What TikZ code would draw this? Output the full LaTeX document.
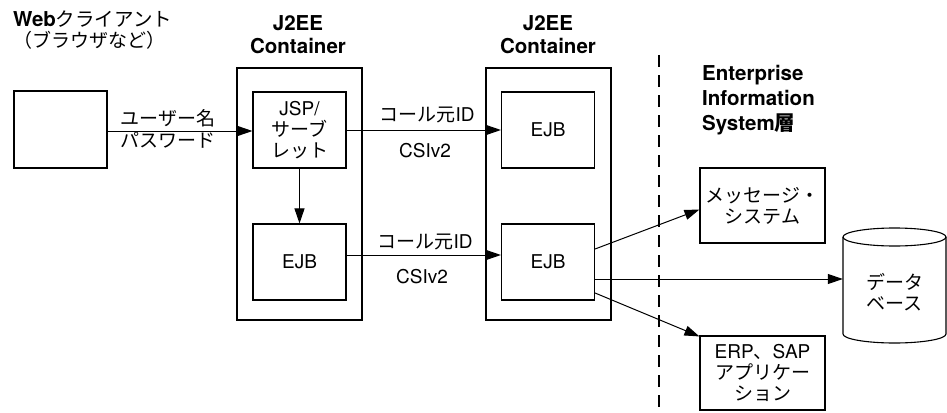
\documentclass[tikz,border=0pt]{standalone}
\usepackage{fontspec}
\setmainfont{TeX Gyre Heros}
\newfontfamily\jafont{Noto Sans CJK JP}
\usetikzlibrary{arrows.meta,calc}

\newcommand\bodyfont{\fontsize{19}{21}\selectfont}
\newcommand\headfont{\fontsize{20.5}{23.5}\selectfont\bfseries}

\begin{document}
\begin{tikzpicture}[x=1pt,y=-1pt,
  box/.style={draw, line width=1.1pt, inner sep=0pt, align=center,
              minimum width=93pt, minimum height=76pt, font=\bodyfont},
  outer/.style={draw, line width=1.1pt, minimum width=125pt, minimum height=252pt},
  eis/.style={box, minimum width=125pt, minimum height=75pt},
  txt/.style={inner sep=0pt, font=\bodyfont, align=center},
  head/.style={inner sep=0pt, font=\headfont, align=center},
  arr/.style={line width=1pt, -{Triangle[length=15pt,width=10pt]}}]

\useasboundingbox (0,0) rectangle (947,412);

% headings
\node[head, anchor=west, text height=14pt, text depth=2pt] (webt) at (13,21)
  {Web{\jafont\mdseries\fontsize{19.5}{21}\selectfont クライアント}};
\node[txt, anchor=west, text height=14pt, text depth=2pt] (webs) at (13,42) {\jafont （ブラウザなど）};
\node[head] (h1) at (298,34.5) {J2EE\\Container};
\node[head] (h2) at (548,34.5) {J2EE\\Container};
\node[head, anchor=west, align=left, font=\fontsize{20.5}{25}\selectfont\bfseries] (h3) at (702,100)
  {Enterprise\\Information\\System{\jafont\bfseries 層}};

% web client
\node[box, minimum width=93pt, minimum height=77pt] (web) at (60.5,129.5) {};

% first container
\node[outer] (c1) at (299.5,194) {};
\node[box] (jsp) at (299.5,130) {JSP/\\{\jafont サーブ}\\{\jafont レット}};
\node[box] (ejb1) at (299.5,262) {EJB};

% second container
\node[outer] (c2) at (548.5,194) {};
\node[box] (ejbA) at (548,130) {EJB};
\node[box] (ejb2) at (548,262) {EJB};

% EIS tier boundary
\draw[line width=2.4pt, dash pattern=on 12pt off 8pt] (659,55) -- (659,412);

% EIS resources
\node[eis] (msg) at (762.5,205.5) {\jafont メッセージ・\\\jafont システム};
\node[eis, minimum height=74pt] (erp) at (762.5,373) {ERP{\jafont 、}SAP\\{\jafont アプリケー}\\{\jafont ション}};

% database cylinder
\draw[line width=1.1pt, fill=white] (843,237) -- (843,334)
  arc[start angle=180, end angle=0, x radius=51.5, y radius=9] -- (946,237);
\draw[line width=1.1pt] (894.5,237) ellipse [x radius=51.5, y radius=9];
\node[inner sep=0pt, minimum width=103pt, minimum height=115pt] (db) at (894.5,285.5) {};
\node[txt] (dbt) at (894.5,292) {\jafont データ\\\jafont ベース};

% connectors
\draw[arr] (web.east |- 0,131) -- (jsp.west |- 0,131);
\draw[arr] (jsp.east) -- (ejbA.west);
\draw[arr] (jsp.south) -- (ejb1.north);
\draw[arr] ($(ejb1.east)+(0,-7)$) -- ($(ejb2.west)+(0,-7)$);
\draw[arr] ($(ejb2.east)+(0,-13)$) -- ($(msg.west)+(0,4)$);
\coordinate (dbs) at ($(ejb2.east)+(0,17)$);
\draw[arr] (dbs) -- (dbs -| db.west);
\draw[arr] ($(ejb2.east)+(0,31)$) -- ($(erp.north west)+(0,1)$);

% connector labels
\node[txt] (l1) at (168,118) {\jafont ユーザー名};
\node[txt] (l2) at (168,140) {\jafont パスワード};
\node[txt] (l3) at (427,115) {{\jafont コール元}ID};
\node[txt] (l4) at (425,151) {CSIv2};
\node[txt] (l5) at (425,242) {{\jafont コール元}ID};
\node[txt] (l6) at (422,277) {CSIv2};
\end{tikzpicture}
\end{document}
